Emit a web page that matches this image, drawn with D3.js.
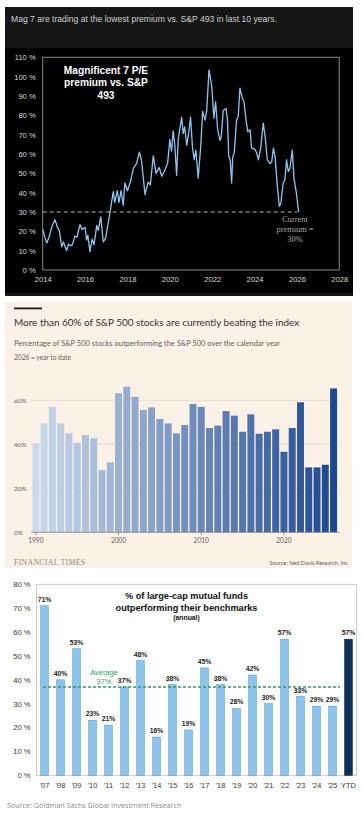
<!DOCTYPE html>
<html>
<head>
<meta charset="utf-8">
<script src="https://cdn.jsdelivr.net/npm/d3@7"></script>
<style>
  body { margin: 0; background: #fff; }
  svg { display: block; }
</style>
</head>
<body>
<div id="chart"></div>
<script>
// ============ DATA ============
// Panel 1: Mag 7 P/E premium vs S&P 493 (fractional year, premium %)
const premiumDates = [2014.00, 2014.10, 2014.19, 2014.30, 2014.45, 2014.58, 2014.70, 2014.78, 2014.90, 2014.98,
  2015.13, 2015.22, 2015.32, 2015.40, 2015.52, 2015.62, 2015.76, 2015.86, 2016.00, 2016.07,
  2016.13, 2016.23, 2016.33, 2016.42, 2016.55, 2016.62, 2016.74, 2016.86, 2016.97, 2017.18,
  2017.33, 2017.40, 2017.52, 2017.60, 2017.70, 2017.80, 2017.88, 2018.00, 2018.15, 2018.28,
  2018.43, 2018.56, 2018.66, 2018.83, 2018.98, 2019.08, 2019.22, 2019.35, 2019.50, 2019.62,
  2019.77, 2019.90, 2020.00, 2020.08, 2020.16, 2020.24, 2020.32, 2020.40, 2020.56, 2020.63,
  2020.70, 2020.80, 2020.88, 2020.98, 2021.07, 2021.15, 2021.23, 2021.34, 2021.46, 2021.55,
  2021.66, 2021.74, 2021.85, 2021.98, 2022.08, 2022.16, 2022.26, 2022.37, 2022.43, 2022.52,
  2022.65, 2022.72, 2022.78, 2022.85, 2022.92, 2022.97, 2023.04, 2023.15, 2023.23, 2023.31,
  2023.42, 2023.50, 2023.60, 2023.68, 2023.79, 2023.86, 2024.01, 2024.10, 2024.18, 2024.29,
  2024.41, 2024.52, 2024.60, 2024.73, 2024.81, 2024.89, 2024.97, 2025.07, 2025.17, 2025.24,
  2025.35, 2025.43, 2025.51, 2025.59, 2025.67, 2025.78, 2025.86, 2025.98, 2026.08];
const premiumValues = [21, 17, 14, 17, 23, 26, 22, 20.5, 12, 14.5,
  10, 13.5, 12.5, 13, 17.5, 17, 23.5, 21, 22, 15.5,
  18, 9.5, 16, 13, 23, 20.5, 27.5, 14.5, 16.5, 30,
  40.5, 35, 41, 35, 41, 33.5, 45, 41, 46, 52.5,
  55, 61, 57, 39, 45.5, 44, 59, 50, 53, 48.5,
  51.7, 55.5, 67.5, 61.5, 72, 64, 49, 68, 79, 70.5,
  74, 64.5, 70, 79, 63.5, 57, 62, 47.5, 64, 82,
  77.5, 82, 103.5, 95, 78.5, 87, 72.5, 67, 69, 82.5,
  83.5, 78, 59, 57, 45, 58.5, 60.5, 77.5, 79.5, 94,
  89, 87, 77.5, 71.5, 72.5, 63, 62.5, 60.5, 57, 63,
  76, 67, 57, 55, 56, 63, 58.5, 44, 33, 34.5,
  45, 46.5, 57, 51, 52.5, 62, 47.5, 39.5, 30];
const premiumYTicks = [0, 10, 20, 30, 40, 50, 60, 70, 80, 90, 100, 110];
const premiumXTicks = [2014, 2016, 2018, 2020, 2022, 2024, 2026, 2028];
const currentPremium = 30;

// Panel 2: share of S&P 500 stocks beating the index
const ftYears = [1990, 1991, 1992, 1993, 1994, 1995, 1996, 1997, 1998, 1999,
  2000, 2001, 2002, 2003, 2004, 2005, 2006, 2007, 2008, 2009,
  2010, 2011, 2012, 2013, 2014, 2015, 2016, 2017, 2018, 2019,
  2020, 2021, 2022, 2023, 2024, 2025, 2026];
const ftValues = [40.4, 49.5, 57, 49.5, 45, 40.7, 44.2, 42.7, 28.3, 31.8,
  63.2, 66.2, 61.6, 55.6, 56.8, 51.5, 49.5, 45, 48.8, 58.3,
  57, 47.4, 48.5, 55.1, 53, 45.7, 53.6, 44.8, 45.7, 46.8,
  36.6, 47.4, 59.1, 29.5, 29.5, 30.7, 65.4];
const ftYTicks = [0, 20, 40, 60];
const ftXTicks = [1990, 2000, 2010, 2020];

// Panel 3: large-cap mutual funds beating benchmarks
const fundLabels = ["'07", "'08", "'09", "'10", "'11", "'12", "'13", "'14", "'15", "'16",
  "'17", "'18", "'19", "'20", "'21", "'22", "'23", "'24", "'25", "YTD"];
const fundValues = [71, 40, 53, 23, 21, 37, 48, 16, 38, 19, 45, 38, 28, 42, 30, 57, 33, 29, 29, 57];
const fundAverage = 37;
const fundYTicks = [0, 10, 20, 30, 40, 50, 60, 70, 80];

// ============ SVG ============
const W = 362, H = 817;
const svg = d3.select("#chart").append("svg")
  .attr("width", W).attr("height", H);

// ============ PANEL 1: LINE CHART ============
const p1 = svg.append("g");
p1.append("rect").attr("x", 5).attr("y", 7).attr("width", 348).attr("height", 289).attr("fill", "#161616");
p1.append("rect").attr("x", 5).attr("y", 48).attr("width", 348).attr("height", 245).attr("fill", "#000");

p1.append("text")
  .attr("x", 11).attr("y", 22)
  .attr("font-family", "Liberation Sans, Arial, sans-serif")
  .attr("font-size", 8.6)
  .attr("fill", "#cfcfcf")
  .text("Mag 7 are trading at the lowest premium vs. S&P 493 in last 10 years.");

const x1 = d3.scaleLinear().domain([2014, 2028]).range([42.7, 339.3]);
const y1 = d3.scaleLinear().domain([0, 110]).range([270, 57.3]);

// frame
p1.append("rect")
  .attr("x", x1(2014)).attr("y", y1(110))
  .attr("width", x1(2028) - x1(2014)).attr("height", y1(0) - y1(110))
  .attr("fill", "none").attr("stroke", "#8a8a8a").attr("stroke-width", 1);

// y axis labels
const yAxis1 = p1.append("g")
  .attr("transform", `translate(${x1(2014)},0)`)
  .call(d3.axisLeft(y1).tickValues(premiumYTicks).tickSize(0).tickPadding(7).tickFormat(d => d + " %"));
yAxis1.select(".domain").remove();
yAxis1.selectAll("text")
  .attr("font-family", "Liberation Sans, Arial, sans-serif")
  .attr("font-size", 7.6).attr("fill", "#dcdcdc");

// x axis labels
const xAxis1 = p1.append("g")
  .attr("transform", `translate(0,${y1(0)})`)
  .call(d3.axisBottom(x1).tickValues(premiumXTicks).tickSize(0).tickPadding(7).tickFormat(d3.format("d")));
xAxis1.select(".domain").remove();
xAxis1.selectAll("text")
  .attr("font-family", "Liberation Sans, Arial, sans-serif")
  .attr("font-size", 7.6).attr("fill", "#dcdcdc");

// dashed current premium line
p1.append("line")
  .attr("x1", x1(2014)).attr("x2", x1(2026.02))
  .attr("y1", y1(currentPremium)).attr("y2", y1(currentPremium))
  .attr("stroke", "#b5b5b5").attr("stroke-width", 1).attr("stroke-dasharray", "4,3");

// premium line
const premiumLine = d3.line()
  .x((d, i) => x1(premiumDates[i]))
  .y(d => y1(d));
p1.append("path")
  .datum(premiumValues)
  .attr("fill", "none")
  .attr("stroke", "#8fc6f0")
  .attr("stroke-width", 1.3)
  .attr("stroke-linejoin", "round")
  .attr("d", premiumLine);

// chart annotation
const ann = p1.append("text")
  .attr("text-anchor", "middle")
  .attr("font-family", "Liberation Sans, Arial, sans-serif")
  .attr("font-weight", "bold")
  .attr("font-size", 10.2)
  .attr("fill", "#fff");
["Magnificent 7 P/E", "premium vs. S&P", "493"].forEach((t, i) => {
  ann.append("tspan").attr("x", 106).attr("y", 74 + i * 12.3).text(t);
});

const cur = p1.append("text")
  .attr("text-anchor", "middle")
  .attr("font-family", "Liberation Serif, Times New Roman, serif")
  .attr("font-size", 8.4)
  .attr("fill", "#a8a8a8");
["Current", "premium =", "30%"].forEach((t, i) => {
  cur.append("tspan").attr("x", 295).attr("y", 222 + i * 9.8).text(t);
});

// ============ PANEL 2: FT BAR CHART ============
const p2 = svg.append("g");
p2.append("rect").attr("x", 5).attr("y", 302).attr("width", 347).attr("height", 266).attr("fill", "#fcf1e6");
p2.append("rect").attr("x", 14).attr("y", 307.5).attr("width", 28).attr("height", 1.8).attr("fill", "#1a1a1a");

p2.append("text")
  .attr("x", 14).attr("y", 325.5)
  .attr("font-family", "Lato, Open Sans, sans-serif")
  .attr("font-size", 9.95)
  .attr("fill", "#33302e")
  .text("More than 60% of S&P 500 stocks are currently beating the index");
p2.append("text")
  .attr("x", 14).attr("y", 345.5)
  .attr("font-family", "Lato, Open Sans, sans-serif")
  .attr("font-size", 7.5)
  .attr("fill", "#66605c")
  .text("Percentage of S&P 500 stocks outperforming the S&P 500 over the calendar year");
p2.append("text")
  .attr("x", 14).attr("y", 359.5)
  .attr("font-family", "Lato, Open Sans, sans-serif")
  .attr("font-size", 6.6)
  .attr("fill", "#66605c")
  .text("2026 = year to date");

const x2 = d3.scaleBand().domain(ftYears).range([31.7, 337.7]).paddingInner(0.16).paddingOuter(0.08);
const y2 = d3.scaleLinear().domain([0, 60]).range([532.3, 400.3]);
const ftColor = d3.scaleLinear().domain([1990, 2026]).range(["#cbdaeb", "#1d4891"]).interpolate(d3.interpolateRgb);

// gridlines
p2.append("g").selectAll("line")
  .data(ftYTicks.filter(d => d > 0))
  .enter().append("line")
  .attr("x1", 31).attr("x2", 340)
  .attr("y1", d => y2(d)).attr("y2", d => y2(d))
  .attr("stroke", "#e3d8ce").attr("stroke-width", 0.8);

p2.append("g").selectAll("text")
  .data(ftYTicks)
  .enter().append("text")
  .attr("x", 14).attr("y", d => y2(d) + 2.3)
  .attr("font-family", "Lato, Open Sans, sans-serif")
  .attr("font-size", 6.4).attr("fill", "#66605c")
  .text(d => d + "%");

// bars
p2.append("g").selectAll("rect")
  .data(ftValues)
  .enter().append("rect")
  .attr("x", (d, i) => x2(ftYears[i]))
  .attr("y", d => y2(d))
  .attr("width", x2.bandwidth())
  .attr("height", d => y2(0) - y2(d))
  .attr("fill", (d, i) => ftColor(ftYears[i]));

// baseline + x ticks
p2.append("line")
  .attr("x1", 31).attr("x2", 340)
  .attr("y1", y2(0)).attr("y2", y2(0))
  .attr("stroke", "#8a817a").attr("stroke-width", 0.8);
const xt2 = p2.append("g").selectAll("g")
  .data(ftXTicks)
  .enter().append("g")
  .attr("transform", d => `translate(${x2(d) + x2.bandwidth() / 2},${y2(0)})`);
xt2.append("line").attr("y1", 0).attr("y2", 3).attr("stroke", "#8a817a").attr("stroke-width", 0.8);
xt2.append("text")
  .attr("y", 10.5).attr("text-anchor", "middle")
  .attr("font-family", "Lato, Open Sans, sans-serif")
  .attr("font-size", 6.6).attr("fill", "#66605c")
  .text(d => d);

p2.append("text")
  .attr("x", 14).attr("y", 565)
  .attr("font-family", "Liberation Serif, Times New Roman, serif")
  .attr("font-size", 7.8).attr("fill", "#8f857d")
  .attr("letter-spacing", 0.3)
  .text("FINANCIAL TIMES");
p2.append("text")
  .attr("x", 348).attr("y", 565)
  .attr("text-anchor", "end")
  .attr("font-family", "Lato, Open Sans, sans-serif")
  .attr("font-size", 5.6).attr("fill", "#66605c")
  .text("Source: Ned Davis Research, Inc");

// ============ PANEL 3: GS BAR CHART ============
const p3 = svg.append("g");
const x3 = d3.scaleBand().domain(fundLabels).range([36.5, 356.5]).paddingInner(0.52).paddingOuter(0.26);
const y3 = d3.scaleLinear().domain([0, 80]).range([775.3, 584.3]);

// frame
p3.append("rect")
  .attr("x", 36.5).attr("y", y3(80))
  .attr("width", 320).attr("height", y3(0) - y3(80))
  .attr("fill", "none").attr("stroke", "#bdbdbd").attr("stroke-width", 0.8);

const yAxis3 = p3.append("g")
  .attr("transform", "translate(36.5,0)")
  .call(d3.axisLeft(y3).tickValues(fundYTicks).tickSize(0).tickPadding(6).tickFormat(d => d + " %"));
yAxis3.select(".domain").remove();
yAxis3.selectAll("text")
  .attr("font-family", "Liberation Sans, Arial, sans-serif")
  .attr("font-size", 7.6).attr("fill", "#333");

const xAxis3 = p3.append("g")
  .attr("transform", `translate(0,${y3(0)})`)
  .call(d3.axisBottom(x3).tickSize(0).tickPadding(7));
xAxis3.select(".domain").remove();
xAxis3.selectAll("text")
  .attr("font-family", "Liberation Sans, Arial, sans-serif")
  .attr("font-size", 7.4).attr("fill", "#333");

// bars
p3.append("g").selectAll("rect")
  .data(fundValues)
  .enter().append("rect")
  .attr("x", (d, i) => x3(fundLabels[i]))
  .attr("y", d => y3(d))
  .attr("width", x3.bandwidth())
  .attr("height", d => y3(0) - y3(d))
  .attr("fill", (d, i) => fundLabels[i] === "YTD" ? "#0e2f57" : "#8ec3ea")
  .attr("stroke", (d, i) => fundLabels[i] === "YTD" ? "#0a2444" : "#5f9fd3")
  .attr("stroke-width", 0.6);

// value labels
p3.append("g").selectAll("text")
  .data(fundValues)
  .enter().append("text")
  .attr("x", (d, i) => x3(fundLabels[i]) + x3.bandwidth() / 2)
  .attr("y", d => y3(d) - 4)
  .attr("text-anchor", "middle")
  .attr("font-family", "Liberation Sans, Arial, sans-serif")
  .attr("font-weight", "bold")
  .attr("font-size", 6.8).attr("fill", "#222")
  .text(d => d + "%");

// average line
p3.append("line")
  .attr("x1", 43).attr("x2", 340)
  .attr("y1", y3(fundAverage)).attr("y2", y3(fundAverage))
  .attr("stroke", "#22a35a").attr("stroke-width", 1.4).attr("stroke-dasharray", "3,2");
const avg = p3.append("text")
  .attr("text-anchor", "middle")
  .attr("font-family", "Liberation Sans, Arial, sans-serif")
  .attr("font-size", 7.4).attr("fill", "#22a35a");
avg.append("tspan").attr("x", 104).attr("y", 675).text("Average");
avg.append("tspan").attr("x", 104).attr("y", 683.5).text(fundAverage + "%");

// title
const t3 = p3.append("text")
  .attr("text-anchor", "middle")
  .attr("font-family", "Liberation Sans, Arial, sans-serif")
  .attr("font-weight", "bold")
  .attr("fill", "#111");
t3.append("tspan").attr("x", 186.5).attr("y", 599).attr("font-size", 9.2).text("% of large-cap mutual funds");
t3.append("tspan").attr("x", 186.5).attr("y", 610.5).attr("font-size", 9.2).text("outperforming their benchmarks");
t3.append("tspan").attr("x", 186.5).attr("y", 620).attr("font-size", 6.8).text("(annual)");

p3.append("text")
  .attr("x", 7).attr("y", 808)
  .attr("font-family", "Open Sans, Liberation Sans, sans-serif")
  .attr("font-size", 7.2).attr("fill", "#8a8a8a")
  .text("Source: Goldman Sachs Global Investment Research");
</script>
</body>
</html>
